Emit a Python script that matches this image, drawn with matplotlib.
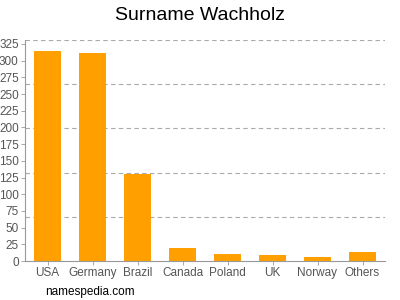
import matplotlib; matplotlib.use("Agg"); import matplotlib.pyplot as plt

plt.rcParams["font.family"] = ["Liberation Sans", "DejaVu Sans"]

countries = ["USA", "Germany", "Brazil", "Canada", "Poland", "UK", "Norway", "Others"]
counts = [315, 312, 130, 20, 10, 9, 6, 14]
yticks = list(range(0, 326, 25))

fig = plt.figure(figsize=(4, 3), dpi=100)
ax = fig.add_axes([0.0625, 0.13, 0.9, 0.737])
ymax = 331
for k in range(1, 6):
    ax.axhline(ymax * k / 5, color="#aaaaaa", lw=0.8, ls=(0, (4, 3)), zorder=0)
ax.bar(range(len(countries)), counts, width=0.62, color="#ffa000", zorder=2)
ax.set_xlim(-0.5, len(countries) - 0.5)
ax.set_ylim(0, ymax)
ax.set_xticks(range(len(countries)))
ax.set_xticklabels(countries)
ax.set_yticks(yticks)
for s in ["top", "right"]:
    ax.spines[s].set_visible(False)
for s in ["left", "bottom"]:
    ax.spines[s].set_color("#999999")
ax.tick_params(colors="#555555", labelsize=8.5, length=3, width=0.6, pad=1.5)
ax.tick_params(axis="both", color="#999999")
fig.text(0.5, 0.95, "Surname Wachholz", ha="center", va="center", fontsize=14)
fig.text(0.113, 0.028, "namespedia.com", ha="left", va="center", fontsize=8.5)
fig.savefig("out.png", dpi=100)
